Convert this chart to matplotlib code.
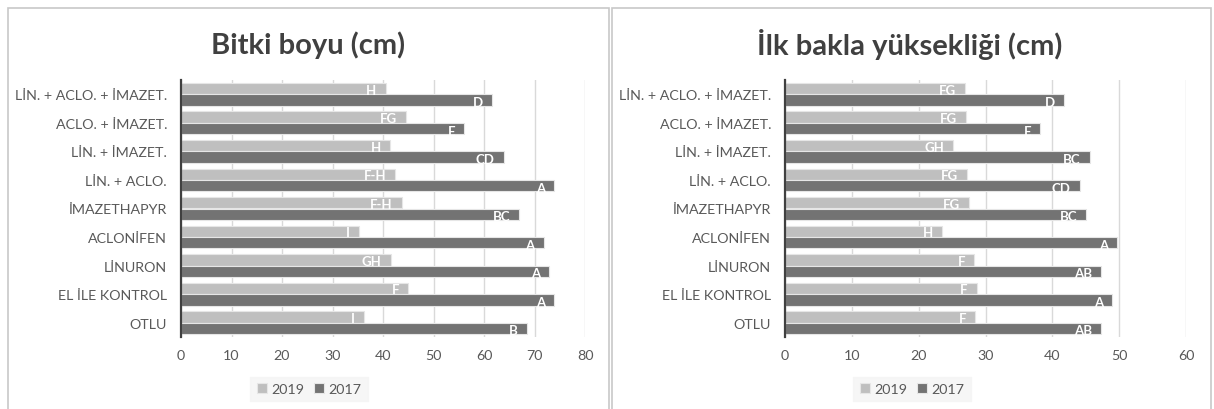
import matplotlib
matplotlib.use("Agg")
import matplotlib.pyplot as plt
import numpy as np
from matplotlib.patches import Rectangle

plt.rcParams['font.family'] = ['Lato', 'DejaVu Sans']

categories = ["LİN. + ACLO. + İMAZET.", "ACLO. + İMAZET.", "LİN. + İMAZET.", "LİN. + ACLO.",
              "İMAZETHAPYR", "ACLONİFEN", "LİNURON", "EL İLE KONTROL", "OTLU"]

height_2019 = [40.5, 44.6, 41.4, 42.4, 43.7, 35.2, 41.5, 45.0, 36.3]
height_2017 = [61.5, 56.1, 63.9, 73.9, 67.0, 71.8, 72.9, 73.9, 68.5]
height_lbl_2019 = ["H", "FG", "H", "F-H", "F-H", "I", "GH", "F", "I"]
height_lbl_2017 = ["D", "E", "CD", "A", "BC", "A", "A", "A", "B"]

pod_2019 = [26.9, 27.1, 25.2, 27.2, 27.5, 23.5, 28.3, 28.7, 28.5]
pod_2017 = [41.8, 38.2, 45.6, 44.1, 45.1, 49.7, 47.3, 49.0, 47.3]
pod_lbl_2019 = ["FG", "FG", "GH", "FG", "FG", "H", "F", "F", "F"]
pod_lbl_2017 = ["D", "E", "BC", "CD", "BC", "A", "AB", "A", "AB"]

titles = ["Bitki boyu (cm)", "İlk bakla yüksekliği (cm)"]
xticks_left = [0, 10, 20, 30, 40, 50, 60, 70, 80]
xticks_right = [0, 10, 20, 30, 40, 50, 60]

C19 = "#bfbfbf"
C17 = "#737373"
TXT = "#595959"

W, H = 1214, 410
fig = plt.figure(figsize=(W / 100, H / 100), dpi=100)

# panel borders
for (x0, x1) in [(8, 609), (612, 1211)]:
    fig.patches.append(Rectangle((x0 / W, -0.01), (x1 - x0) / W, 1 - 9 / H + 0.01,
                                 transform=fig.transFigure, fill=False,
                                 edgecolor="#c8c8c8", linewidth=1.2))

def panel(ax_rect, v19, v17, l19, l17, xticks, title, title_x, leg_x):
    ax = fig.add_axes(ax_rect)
    y = np.arange(len(categories))
    bh = 0.4
    ax.barh(y - bh / 2, v19, height=bh, color=C19, edgecolor="#e6e6e6", linewidth=0.8, label="2019", zorder=2)
    ax.barh(y + bh / 2, v17, height=bh, color=C17, edgecolor="#e6e6e6", linewidth=0.8, label="2017", zorder=2)
    for yi, v, t in zip(y - bh / 2, v19, l19):
        ax.annotate(t, (v, yi), xytext=(-9, -1), textcoords="offset pixels",
                    ha="right", va="center", color="white", fontsize=9.5, fontweight="bold", zorder=3)
    for yi, v, t in zip(y + bh / 2, v17, l17):
        ax.annotate(t, (v, yi), xytext=(-9, -2), textcoords="offset pixels",
                    ha="right", va="center", color="white", fontsize=9.5, fontweight="bold", zorder=3)
    ax.set_ylim(len(categories) - 0.5, -0.5)
    ax.set_xlim(xticks[0], xticks[-1])
    ax.set_xticks(xticks)
    ax.set_yticks(y)
    ax.set_yticklabels(categories)
    ax.grid(axis="x", color="#d9d9d9", linewidth=1.0, zorder=0)
    ax.set_axisbelow(True)
    for s in ["top", "right", "bottom"]:
        ax.spines[s].set_visible(False)
    ax.spines["left"].set_color("#404040")
    ax.spines["left"].set_linewidth(1.6)
    ax.tick_params(axis="both", length=0, labelsize=10.3, colors=TXT)
    ax.tick_params(axis="x", pad=9)
    ax.tick_params(axis="y", pad=10)
    fig.text(title_x, 1 - 45 / H, title, ha="center", va="center",
             fontsize=21, fontweight="bold", color="#404040")
    h, lab = ax.get_legend_handles_labels()
    leg = fig.legend(h, lab, loc="center", bbox_to_anchor=(leg_x, 1 - 390 / H), ncol=2,
                     frameon=True, fontsize=10.3, handlelength=0.7, handleheight=0.7,
                     handletextpad=0.3, columnspacing=0.7, borderpad=0.45)
    leg.get_frame().set_facecolor("#f4f4f4")
    leg.get_frame().set_edgecolor("#f4f4f4")
    leg.get_frame().set_boxstyle("square", pad=0)
    for t in leg.get_texts():
        t.set_color(TXT)
    return ax

ax_top = 1 - 81 / H
ax_bot = 1 - 338 / H
panel([181 / W, ax_bot, (585 - 181) / W, ax_top - ax_bot], height_2019, height_2017,
      height_lbl_2019, height_lbl_2017, xticks_left, titles[0], 308 / W, 309 / W)
panel([785 / W, ax_bot, (1186 - 785) / W, ax_top - ax_bot], pod_2019, pod_2017,
      pod_lbl_2019, pod_lbl_2017, xticks_right, titles[1], 910 / W, 912 / W)

fig.savefig("out.png", dpi=100, facecolor="white")
